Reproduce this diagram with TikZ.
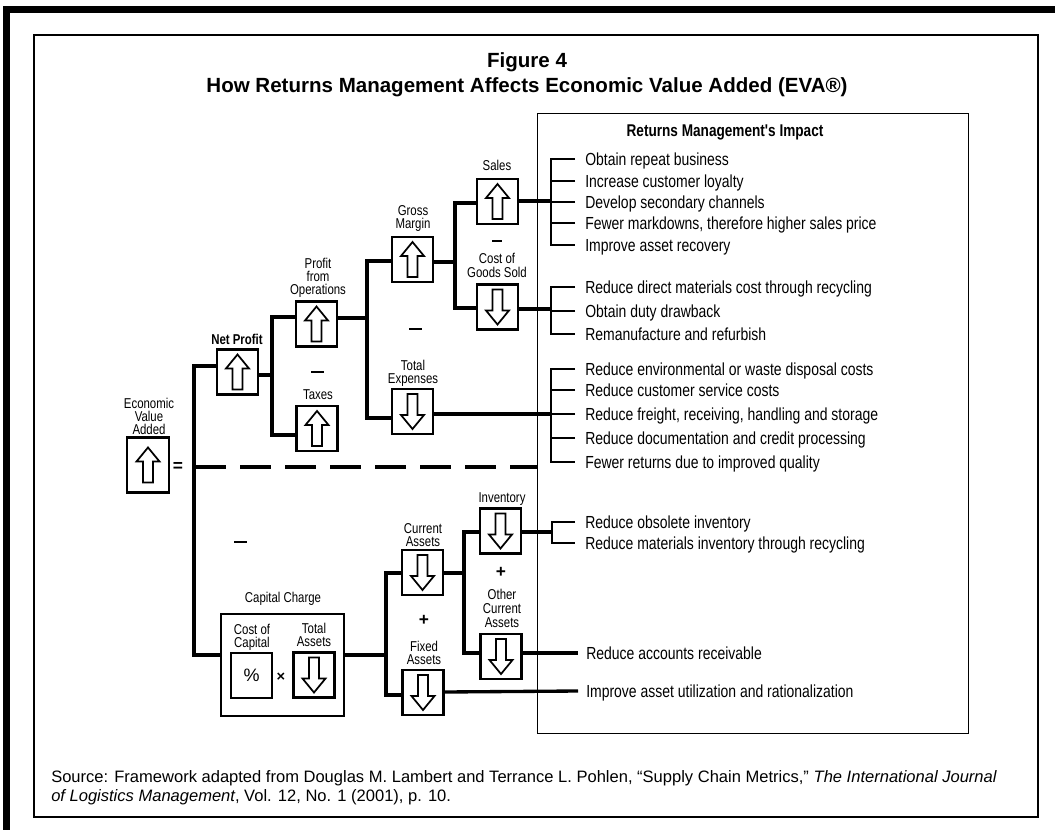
\documentclass[tikz,border=0pt]{standalone}
\usepackage{fontspec}
\setmainfont{Liberation Sans}
\newfontfamily\condfont{Liberation Sans}[FakeStretch=0.8]
\usetikzlibrary{calc}

\begin{document}
\begin{tikzpicture}[x=0.75pt,y=-0.75pt,
  box/.style={draw, line width=2pt, minimum width=30.75pt, minimum height=33.75pt, inner sep=0pt},
  conn/.style={line width=2.5pt},
  brk/.style={line width=1.9pt},
  glyph/.style={line width=1.3pt, line join=miter},
  lbl/.style={font=\condfont\fontsize{10.7}{12}\selectfont, inner sep=0pt, text height=7.66pt, text depth=0pt},
  boldlbl/.style={lbl, font=\condfont\bfseries\fontsize{10.7}{12}\selectfont},
  item/.style={font=\condfont\fontsize{13.1}{15}\selectfont, inner sep=0pt, anchor=west, text height=9.38pt, text depth=0pt},
  sign/.style={font=\bfseries\fontsize{13}{14}\selectfont, inner sep=0pt},
  minusbar/.style={line width=2.2pt},
  uparrow/.pic={\draw[glyph] (0,-17.5) -- (11.5,-3.5) -- (5,-3.5) -- (5,17.5) -- (-5,17.5) -- (-5,-3.5) -- (-11.5,-3.5) -- cycle;},
  downarrow/.pic={\draw[glyph] (0,17.5) -- (11.5,3.5) -- (5,3.5) -- (5,-17.5) -- (-5,-17.5) -- (-5,3.5) -- (-11.5,3.5) -- cycle;}
]
\useasboundingbox (0,0) rectangle (1055,830);

% page frame and figure frame
\draw[line width=5pt] (1060,9.5) -- (6.5,9.5) -- (6.5,835);
\draw[line width=1.5pt] (34,35) rectangle (1038,817);

% title
\node[font=\bfseries\fontsize{15.4}{17}\selectfont, inner sep=0pt] (fig) at (527,62) {Figure 4};
\node[font=\bfseries\fontsize{15.4}{17}\selectfont, inner sep=0pt] (title) at (527,87) {How Returns Management Affects Economic Value Added (EVA®)};

% impact panel
\node[draw, line width=1.1pt, minimum width=323.25pt, minimum height=465pt, inner sep=0pt, anchor=north west] (impact) at (537,113) {};
\node[font=\condfont\bfseries\fontsize{12.75}{14}\selectfont, inner sep=0pt] (impacthead) at (725,132) {Returns Management's Impact};

% value tree boxes
\node[box, minimum width=31.5pt, minimum height=41.25pt] (eva) at (148,465) {};
\node[box] (np) at (237.5,372) {};
\node[box] (pfo) at (316.5,324) {};
\node[box] (tax) at (317,428.5) {};
\node[box] (gm) at (412.5,259.5) {};
\node[box] (te) at (412.5,411.5) {};
\node[box] (sales) at (497.5,201.5) {};
\node[box] (cogs) at (497.5,307) {};
\node[box, minimum width=92.25pt, minimum height=76.5pt] (cc) at (282.5,665) {};
\node[box, font=\fontsize{13.5}{14}\selectfont] (pct) at (251.5,675.5) {\%};
\node[box] (ta) at (314,675) {};
\node[box] (ca) at (422.5,572.5) {};
\node[box] (fa) at (423,692.5) {};
\node[box] (inv) at (500.5,531) {};
\node[box] (oca) at (501,656.5) {};

% arrows inside the boxes
\pic at (eva) {uparrow};
\pic at (np) {uparrow};
\pic at (pfo) {uparrow};
\pic at (tax) {uparrow};
\pic at (gm) {uparrow};
\pic at (sales) {uparrow};
\pic at (te) {downarrow};
\pic at (cogs) {downarrow};
\pic at (ta) {downarrow};
\pic at (ca) {downarrow};
\pic at (fa) {downarrow};
\pic at (inv) {downarrow};
\pic at (oca) {downarrow};

% box captions
\node[lbl] (leva1) at (149,403) {Economic};
\node[lbl] (leva2) at (149,416) {Value};
\node[lbl] (leva3) at (149,429) {Added};
\node[boldlbl] (lnp) at (237,339) {Net Profit};
\node[lbl] (lpfo1) at (318,263) {Profit};
\node[lbl] (lpfo2) at (318,276) {from};
\node[lbl] (lpfo3) at (318,289) {Operations};
\node[lbl] (ltax) at (318,394) {Taxes};
\node[lbl] (lgm1) at (413,210) {Gross};
\node[lbl] (lgm2) at (413,223) {Margin};
\node[lbl] (lte1) at (413,365) {Total};
\node[lbl] (lte2) at (413,378) {Expenses};
\node[lbl] (lsales) at (497,165) {Sales};
\node[lbl] (lcogs1) at (497,258) {Cost of};
\node[lbl] (lcogs2) at (497,272) {Goods Sold};
\node[lbl] (lca1) at (423,528) {Current};
\node[lbl] (lca2) at (423,541) {Assets};
\node[lbl] (lfa1) at (424,646) {Fixed};
\node[lbl] (lfa2) at (424,659) {Assets};
\node[lbl] (linv) at (502,497) {Inventory};
\node[lbl] (loca1) at (502,594) {Other};
\node[lbl] (loca2) at (502,608) {Current};
\node[lbl] (loca3) at (502,622) {Assets};
\node[lbl] (lcc) at (283,597) {Capital Charge};
\node[lbl] (lpct1) at (252,629) {Cost of};
\node[lbl] (lpct2) at (252,642) {Capital};
\node[lbl] (lta1) at (314,628) {Total};
\node[lbl] (lta2) at (314,641) {Assets};

% operators
\node[sign] (eq) at (178,467) {=};
\node[sign, font=\bfseries\fontsize{11}{12}\selectfont] (times) at (281,677) {×};
\node[sign] (plus1) at (424,620) {+};
\node[sign] (plus2) at (501,572) {+};
\draw[minusbar] (311,372) -- (324,372);
\draw[minusbar] (409,329) -- (422,329);
\draw[minusbar] (492,241) -- (502,241);
\draw[minusbar] (234,542) -- (247,542);

% separator between the profit and the capital parts
\draw[line width=3pt, dash pattern=on 23.25pt off 10.5pt] (195,467) -- (impact.west |- 0,467);

% impact items
\node[item] (s1) at (585,159) {Obtain repeat business};
\node[item] (s2) at (585,181) {Increase customer loyalty};
\node[item] (s3) at (585,202) {Develop secondary channels};
\node[item] (s4) at (585,223) {Fewer markdowns, therefore higher sales price};
\node[item] (s5) at (585,245) {Improve asset recovery};
\node[item] (c1) at (585,287) {Reduce direct materials cost through recycling};
\node[item] (c2) at (585,311) {Obtain duty drawback};
\node[item] (c3) at (585,334) {Remanufacture and refurbish};
\node[item] (t1) at (585,369) {Reduce environmental or waste disposal costs};
\node[item] (t2) at (585,390) {Reduce customer service costs};
\node[item] (t3) at (585,414) {Reduce freight, receiving, handling and storage};
\node[item] (t4) at (585,438) {Reduce documentation and credit processing};
\node[item] (t5) at (585,462) {Fewer returns due to improved quality};
\node[item] (i1) at (585,522) {Reduce obsolete inventory};
\node[item] (i2) at (585,543) {Reduce materials inventory through recycling};
\node[item] (o1) at (586,653) {Reduce accounts receivable};
\node[item] (f1) at (586,691) {Improve asset utilization and rationalization};

% tree connectors
\draw[conn] (np.west |- 0,366) -| (194,655) -- (cc.west |- 0,655);
\draw[conn] (np.east |- 0,375) -- (272,375);
\draw[conn] (pfo.west |- 0,317) -| (272,435) -- (tax.west |- 0,435);
\draw[conn] (pfo.east |- 0,318) -- (367,318);
\draw[conn] (gm.west |- 0,261) -| (367,418) -- (te.west |- 0,418);
\draw[conn] (gm.east |- 0,262) -- (455,262);
\draw[conn] (sales.west |- 0,203) -| (455,308) -- (cogs.west |- 0,308);
\draw[conn] (sales.east |- 0,201) -- (551,201);
\draw[conn] (cogs.east |- 0,309) -- (551,309);
\draw[conn] (te.east |- 0,414) -- (551,414);
\draw[conn] (cc.east |- 0,655) -- (386,655);
\draw[conn] (ca.west |- 0,573) -| (386,695) -- (fa.west |- 0,695);
\draw[conn] (ca.east |- 0,573) -- (464,573);
\draw[conn] (inv.west |- 0,532) -| (464,653) -- (oca.west |- 0,653);
\draw[conn] (inv.east |- 0,532) -- (552,532);
\draw[conn] (oca.east |- 0,653) -- ($(o1.west)+(-8,0)$);
\draw[conn] (fa.east |- 0,692) -- ($(f1.west)+(-8,0)$);

% item brackets
\draw[brk] ($(s1.west)+(-10,0)$) -| ($(s5.west)+(-34,0)$) -- ($(s5.west)+(-10,0)$);
\foreach \n in {s2,s3,s4} \draw[brk] ($(\n.west)+(-10,0)$) -- ($(\n.west)+(-34,0)$);
\draw[brk] ($(c1.west)+(-10,0)$) -| ($(c3.west)+(-34,0)$) -- ($(c3.west)+(-10,0)$);
\draw[brk] ($(c2.west)+(-10,0)$) -- ($(c2.west)+(-34,0)$);
\draw[brk] ($(t1.west)+(-10,0)$) -| ($(t5.west)+(-34,0)$) -- ($(t5.west)+(-10,0)$);
\foreach \n in {t2,t3,t4} \draw[brk] ($(\n.west)+(-10,0)$) -- ($(\n.west)+(-34,0)$);
\draw[brk] ($(i1.west)+(-10,0)$) -| ($(i2.west)+(-33,0)$) -- ($(i2.west)+(-10,0)$);

% source note
\node[anchor=west, inner sep=0pt, font=\fontsize{12.4}{14}\selectfont] (src1) at (51,778) {Source: Framework adapted from Douglas M. Lambert and Terrance L. Pohlen, “Supply Chain Metrics,” \textit{The International Journal}};
\node[anchor=west, inner sep=0pt, font=\fontsize{12.4}{14}\selectfont] (src2) at (51,797) {\textit{of Logistics Management}, Vol. 12, No. 1 (2001), p. 10.};
\end{tikzpicture}
\end{document}
